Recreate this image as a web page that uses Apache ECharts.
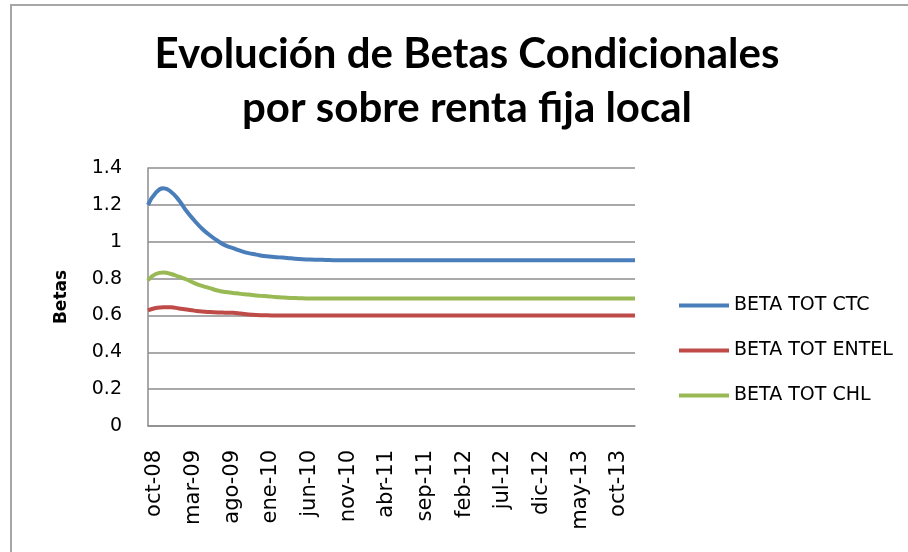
<!DOCTYPE html>
<html>
<head>
<meta charset="utf-8">
<script src="https://cdn.jsdelivr.net/npm/echarts@6/dist/echarts.min.js"></script>
<style>
  html, body { margin: 0; padding: 0; background: #fff; }
  #chart { width: 908px; height: 552px; }
</style>
</head>
<body>
<div id="chart"></div>
<script>
// ─── Data ─────────────────────────────────────────────────────────────────
const monthNames = ["ene", "feb", "mar", "abr", "may", "jun", "jul", "ago", "sep", "oct", "nov", "dic"];

// monthly categories, oct-08 .. ene-14
const months = [];
for (let i = 0; i < 64; i++) {
  const m = (9 + i) % 12;
  const y = 8 + Math.floor((9 + i) / 12);
  months.push(monthNames[m] + "-" + String(y).padStart(2, "0"));
}

const betaCTC = [
  1.20, 1.265, 1.29, 1.27, 1.225, 1.165, 1.115, 1.07, 1.035, 1.005,
  0.98, 0.965, 0.95, 0.938, 0.93, 0.922, 0.918, 0.915, 0.912, 0.908,
  0.905, 0.903, 0.902, 0.901, 0.90, 0.90, 0.90, 0.90, 0.90, 0.90,
  0.90, 0.90, 0.90, 0.90, 0.90, 0.90, 0.90, 0.90, 0.90, 0.90,
  0.90, 0.90, 0.90, 0.90, 0.90, 0.90, 0.90, 0.90, 0.90, 0.90,
  0.90, 0.90, 0.90, 0.90, 0.90, 0.90, 0.90, 0.90, 0.90, 0.90,
  0.90, 0.90, 0.90, 0.90
];

const betaENTEL = [
  0.628, 0.64, 0.645, 0.644, 0.638, 0.632, 0.626, 0.621, 0.618, 0.616,
  0.615, 0.614, 0.61, 0.605, 0.602, 0.601, 0.60, 0.60, 0.60, 0.60,
  0.60, 0.60, 0.60, 0.60, 0.60, 0.60, 0.60, 0.60, 0.60, 0.60,
  0.60, 0.60, 0.60, 0.60, 0.60, 0.60, 0.60, 0.60, 0.60, 0.60,
  0.60, 0.60, 0.60, 0.60, 0.60, 0.60, 0.60, 0.60, 0.60, 0.60,
  0.60, 0.60, 0.60, 0.60, 0.60, 0.60, 0.60, 0.60, 0.60, 0.60,
  0.60, 0.60, 0.60, 0.60
];

const betaCHL = [
  0.79, 0.825, 0.833, 0.825, 0.81, 0.795, 0.775, 0.76, 0.748, 0.735,
  0.727, 0.722, 0.717, 0.713, 0.708, 0.705, 0.702, 0.698, 0.696, 0.694,
  0.693, 0.692, 0.692, 0.692, 0.692, 0.692, 0.692, 0.692, 0.692, 0.692,
  0.692, 0.692, 0.692, 0.692, 0.692, 0.692, 0.692, 0.692, 0.692, 0.692,
  0.692, 0.692, 0.692, 0.692, 0.692, 0.692, 0.692, 0.692, 0.692, 0.692,
  0.692, 0.692, 0.692, 0.692, 0.692, 0.692, 0.692, 0.692, 0.692, 0.692,
  0.692, 0.692, 0.692, 0.692
];

const seriesNames = ["BETA TOT CTC", "BETA TOT ENTEL", "BETA TOT CHL"];
const seriesColors = ["#4a7ebb", "#be4b48", "#98b954"];

// ─── Chart ────────────────────────────────────────────────────────────────
const chart = echarts.init(document.getElementById("chart"));

const labelFont = "DejaVu Sans";

function lineSeries(name, data, color) {
  return {
    name,
    type: "line",
    data,
    smooth: true,
    showSymbol: false,
    lineStyle: { color, width: 4 },
    itemStyle: { color }
  };
}

chart.setOption({
  animation: false,
  title: {
    text: "Evolución de Betas Condicionales\npor sobre renta fija local",
    left: 467,
    top: 27,
    textAlign: "center",
    padding: 0,
    textStyle: {
      fontFamily: "Lato",
      fontWeight: "bold",
      fontSize: 42,
      lineHeight: 54,
      color: "#000"
    }
  },
  graphic: [{
    type: "rect",
    shape: { x: 11, y: 5, width: 910, height: 560 },
    style: { fill: "none", stroke: "#a6a6a6", lineWidth: 2 },
    silent: true
  }],
  legend: {
    orient: "vertical",
    left: 674,
    top: 291,
    icon: "rect",
    itemWidth: 50,
    itemHeight: 4,
    itemGap: 26,
    textStyle: { fontFamily: labelFont, fontSize: 19, color: "#000", lineHeight: 19 },
    data: seriesNames
  },
  grid: { left: 148, right: 273, top: 168, bottom: 126 },
  xAxis: {
    type: "category",
    data: months,
    boundaryGap: false,
    axisLine: { lineStyle: { color: "#8c8c8c", width: 1.5 } },
    axisTick: { show: false },
    axisLabel: {
      interval: 4,
      rotate: 90,
      margin: 24,
      fontFamily: labelFont,
      fontSize: 21,
      lineHeight: 14,
      verticalAlign: "top",
      color: "#000"
    }
  },
  yAxis: {
    type: "value",
    min: 0,
    max: 1.4,
    interval: 0.2,
    name: "Betas",
    nameLocation: "middle",
    nameRotate: 90,
    nameGap: 78,
    nameTextStyle: { fontFamily: labelFont, fontWeight: "bold", fontSize: 17, color: "#000" },
    axisLine: { show: true, lineStyle: { color: "#8c8c8c", width: 1.5 } },
    axisTick: { show: false },
    splitLine: { lineStyle: { color: "#8c8c8c", width: 1.5 } },
    axisLabel: {
      margin: 26,
      fontFamily: labelFont,
      fontSize: 19,
      color: "#000",
      formatter: v => String(Math.round(v * 10) / 10)
    }
  },
  series: [
    lineSeries(seriesNames[0], betaCTC, seriesColors[0]),
    lineSeries(seriesNames[1], betaENTEL, seriesColors[1]),
    lineSeries(seriesNames[2], betaCHL, seriesColors[2])
  ]
});
</script>
</body>
</html>
